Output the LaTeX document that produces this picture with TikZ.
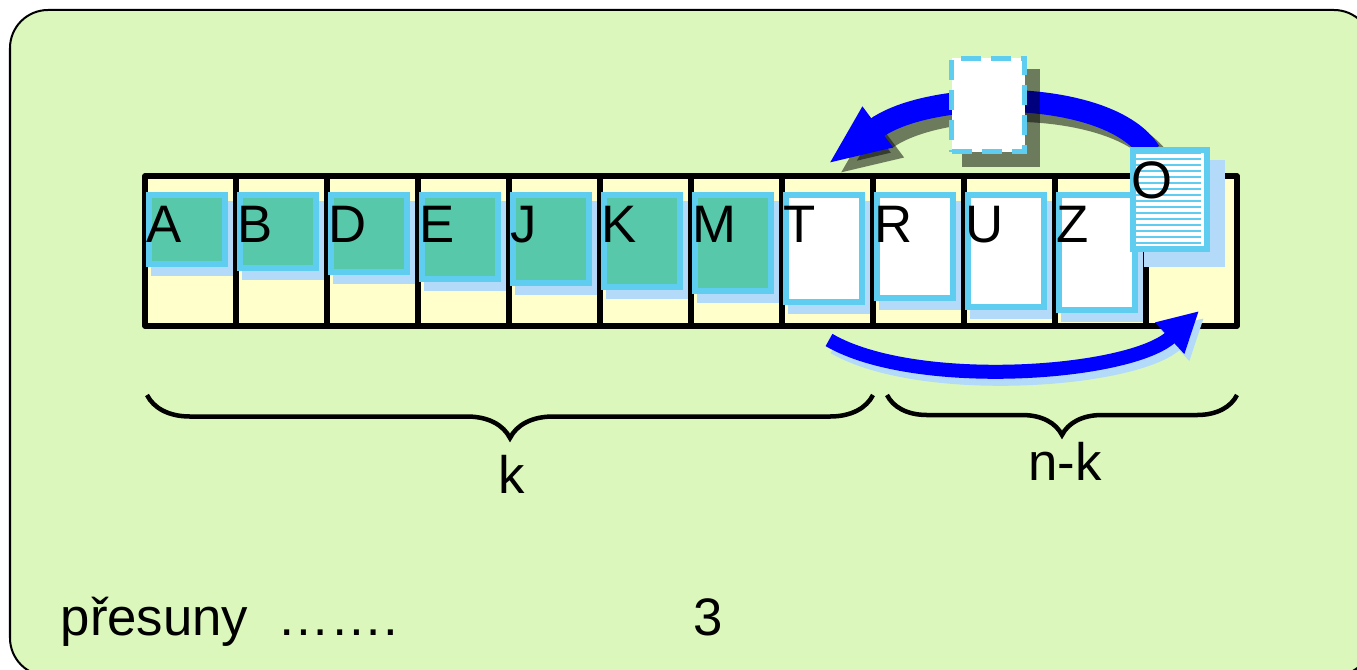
\documentclass[tikz,border=0pt]{standalone}
\usepackage{fontspec}
\setmainfont{Liberation Sans}
\usepackage{tikz}
\usetikzlibrary{arrows.meta}
\usetikzlibrary{decorations.pathreplacing}
\definecolor{bggreen}{RGB}{220,247,187}
\definecolor{cellyellow}{RGB}{255,255,204}
\definecolor{cardteal}{RGB}{87,200,170}
\definecolor{cardblue}{RGB}{95,205,240}
\definecolor{shadowblue}{RGB}{179,218,249}
\tikzset{>=latex,
  gridline/.style = {line width = 0.055cm, line join = round},
  card/.style = {draw = cardblue, line width = 0.06cm, minimum width = 0.76cm, anchor = north west, inner sep = 0},
  letter/.style = {anchor = base west, inner sep = 0},
  bigarrow/.style = {line width = 0.22cm, -{Triangle[length = 0.62cm, width = 0.46cm]}},
  smallarrow/.style = {line width = 0.14cm, -{Triangle[length = 0.4cm, width = 0.4cm]}},
  underbrace/.style = {decorate, line width = 0.045cm},
}

\begin{document}
\begin{tikzpicture}[x = 0.01cm, y = -0.01cm, every node/.style = {font = \fontsize{15}{18}\selectfont}]
\useasboundingbox (0,0) rectangle (1357,670);
\draw[fill = bggreen, line width = 0.02cm, rounded corners = 0.38cm] (10,10) rectangle (1372,676);

% the array
\fill[cellyellow] (145,176) rectangle (1237,326);
\foreach \i in {1,...,11}
  \draw[gridline] (145+91*\i,176) -- (145+91*\i,326);
\draw[gridline] (145,176) rectangle (1237,326);

% cards with letters
\foreach \l/\b/\c [count = \i from 0] in {A/264/cardteal, B/268/cardteal, D/272/cardteal, E/279/cardteal, J/283/cardteal, K/287/cardteal, M/291/cardteal, T/302/white, R/298/white, U/307/white, Z/310/white}
{
  \fill[shadowblue] (151+91*\i,201) rectangle (233+91*\i,\b+12);
  \pgfmathsetmacro{\h}{(\b-195)/100}
  \node[card, fill = \c, minimum height = \h cm] (card\l) at (146+91*\i,192) {};
  \node[letter] (lab\l) at (146+91*\i,243) {\l};
}

% move along the bottom
\coordinate (lowstart) at (829,340);
\coordinate (lowend) at (1199,311);
\draw[smallarrow, shadowblue] ([shift = {(5,7)}]lowstart) .. controls (920,397) and (1135,382) .. ([shift = {(5,7)}]lowend);
\draw[smallarrow, blue] (lowstart) .. controls (915,390) and (1130,375) .. (lowend);

% move over the top
\coordinate (upstart) at (1150,152);
\coordinate (upend) at (828,164);
\draw[bigarrow, black, opacity = 0.5] ([shift = {(11,10)}]upstart) .. controls (1121,98) and (941,98) .. ([shift = {(11,10)}]upend);
\draw[bigarrow, blue] (upstart) .. controls (1110,88) and (930,88) .. (upend);

% the card O
\fill[shadowblue] (1144,160) rectangle (1225,267);
\node[card, fill = white, minimum width = 0.74cm, minimum height = 0.99cm] (cardO) at (1130,147) {};
\foreach \y in {153,159,...,246}
  \draw[cardblue, line width = 0.02cm] (1133,\y) -- (1201,\y);
\node[letter] (labO) at (1131,199) {O};

% the empty place
\fill[black, opacity = 0.5] (962,69) rectangle (1040,167);
\node[card, fill = white, dash pattern = on 0.2cm off 0.1cm, line width = 0.05cm, minimum width = 0.73cm, minimum height = 0.93cm] (gap) at (949,56) {};

% braces
\draw[underbrace, decoration = {brace, amplitude = 0.43cm}] (873,395) -- (147,395);
\draw[underbrace, decoration = {brace, amplitude = 0.40cm}] (1237,395) -- (887,395);
\node[anchor = base] (k) at (512,493) {k};
\node[anchor = base] (nk) at (1065,480) {n-k};

\node[letter] (moves) at (60,635) {přesuny~~…….};
\node[anchor = base] (count) at (708,635) {3};
\end{tikzpicture}
\end{document}
